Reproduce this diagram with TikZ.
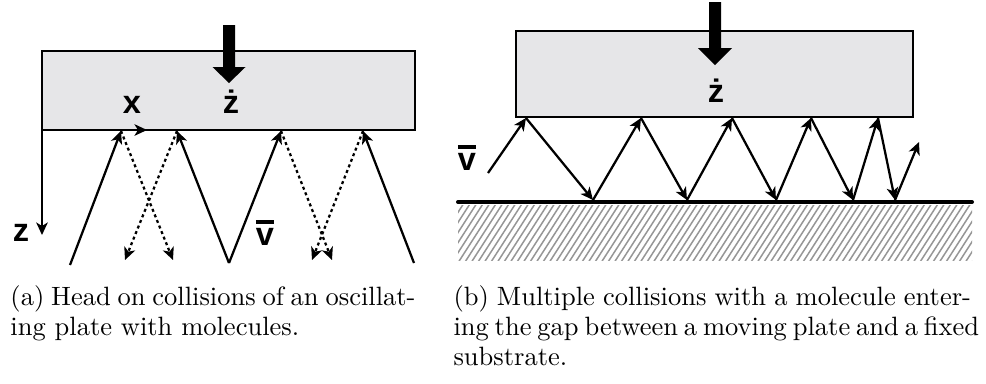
\documentclass[tikz,border=0pt]{standalone}
\usepackage{fontspec}
\newfontfamily\labelfont{Liberation Sans}
\usetikzlibrary{arrows.meta}
\definecolor{plategray}{RGB}{230,230,232}
\definecolor{hatchgray}{RGB}{150,150,150}
\newcommand{\vbar}{\vbox{\hrule height 1.4pt\kern 1.6pt\hbox{v}}}

\begin{document}
\begin{tikzpicture}[x=0.4pt, y=-0.4pt, >={Stealth[length=5pt,width=4.6pt,inset=1.4pt]},
  plate/.style={draw, line width=1pt, fill=plategray},
  traj/.style={line width=0.9pt, ->},
  refl/.style={line width=0.9pt, dash pattern=on 1.2pt off 1.2pt, ->},
  lbl/.style={font=\labelfont\bfseries\fontsize{13}{15}\selectfont, inner sep=0pt, anchor=base},
  captext/.style={anchor=base west, inner sep=0pt, font=\fontsize{10.6}{12}\selectfont}]
  \useasboundingbox (0,0) rectangle (986,383);

  % (a) oscillating plate
  \draw[plate] (42,51) rectangle (415,130);
  \fill (223,25) -- (235,25) -- (235,67) -- (245.5,67) -- (229,83) -- (212.5,67) -- (223,67) -- cycle;
  \coordinate (O) at (42,130);
  \coordinate (xend) at (147,130);
  \coordinate (zend) at (42,235);
  \draw[->, line width=1pt] (O) -- (xend);
  \draw[->, line width=1pt] (O) -- (zend);
  \node[lbl] (xlab) at (132,113) {x};
  \node[lbl] (zlab) at (21,241) {z};
  \node[lbl] (zdota) at (231,113) {ż};
  \node[lbl] (vlaba) at (265,245) {\vbar};

  \coordinate (h1) at (121,131);
  \coordinate (h2) at (177,131);
  \coordinate (h3) at (281,131);
  \coordinate (h4) at (363,131);
  \coordinate (s1) at (70,265);
  \coordinate (s2) at (229,263);
  \coordinate (s4) at (414,263);
  \coordinate (d1) at (173,260);
  \coordinate (d2) at (125,260);
  \coordinate (d3) at (332,260);
  \coordinate (d4) at (312,260);
  \draw[traj] (s1) -- (h1);
  \draw[traj] (s2) -- (h2);
  \draw[traj] (s2) -- (h3);
  \draw[traj] (s4) -- (h4);
  \foreach \i in {1,...,4}
    \draw[refl] (h\i) -- (d\i);

  % (b) plate over fixed substrate
  \draw[plate] (516,31) rectangle (913,117);
  \fill (709,2) -- (721,2) -- (721,48) -- (732,48) -- (715,65) -- (698,48) -- (709,48) -- cycle;
  \node[lbl] (zdotb) at (716,102) {ż};
  \node[lbl] (vlabb) at (467,170) {\vbar};

  \begin{scope}
    \clip (458,205) rectangle (972,260);
    \foreach \u in {400,406.5,...,990}
      \draw[hatchgray, line width=0.6pt] (\u,262) -- (\u+38,203);
  \end{scope}
  \draw[line width=1.6pt, line cap=round] (458,202) -- (972,202);

  \coordinate (b0) at (488,173);
  \coordinate (b1) at (526,118);
  \coordinate (b2) at (593,200);
  \coordinate (b3) at (641,118);
  \coordinate (b4) at (687,200);
  \coordinate (b5) at (732,118);
  \coordinate (b6) at (776,200);
  \coordinate (b7) at (811,118);
  \coordinate (b8) at (853,200);
  \coordinate (b9) at (878,118);
  \coordinate (b10) at (895,200);
  \coordinate (b11) at (919,142);
  \foreach \i [evaluate=\i as \j using int(\i+1)] in {0,...,10}
    \draw[traj] (b\i) -- (b\j);

  % captions
  \node[captext] (capa1) at (10,305) {\makebox[162pt][s]{(a) Head on collisions of an oscillat-}};
  \node[captext] (capa2) at (10,335) {ing plate with molecules.};
  \node[captext] (capb1) at (453,305) {\makebox[207pt][s]{(b) Multiple collisions with a molecule enter-}};
  \node[captext] (capb2) at (453,335) {\makebox[209pt][s]{ing the gap between a moving plate and a fixed}};
  \node[captext] (capb3) at (453,365) {substrate.};
\end{tikzpicture}
\end{document}
